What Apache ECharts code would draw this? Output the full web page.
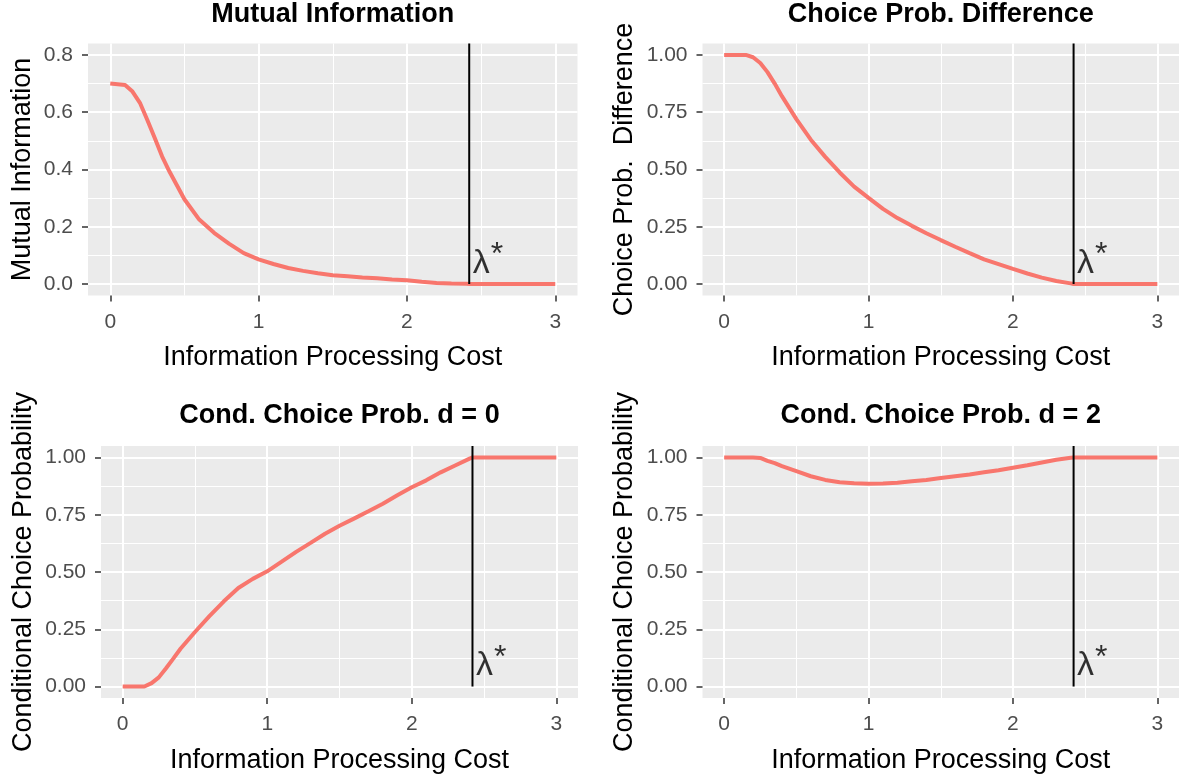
<!DOCTYPE html>
<html>
<head>
<meta charset="utf-8">
<script src="https://cdn.jsdelivr.net/npm/echarts@6/dist/echarts.min.js"></script>
<style>
html,body{margin:0;padding:0;background:#fff;}
#chart{width:1180px;height:776px;}
</style>
</head>
<body>
<div id="chart"></div>
<script>
// ---------------- data ----------------
const costX = [0, 0.1, 0.15, 0.2, 0.25, 0.3, 0.35, 0.4, 0.5, 0.6, 0.7, 0.8, 0.9, 1.0, 1.1, 1.2, 1.3, 1.4, 1.5, 1.6, 1.7, 1.8, 1.9, 2.0, 2.1, 2.2, 2.3, 2.4, 2.42, 2.5, 2.6, 2.7, 2.8, 2.9, 3.0];
const mutualInfo = [0.700, 0.695, 0.672, 0.633, 0.573, 0.510, 0.445, 0.392, 0.296, 0.225, 0.179, 0.141, 0.108, 0.086, 0.070, 0.056, 0.046, 0.038, 0.031, 0.027, 0.023, 0.020, 0.016, 0.013, 0.008, 0.004, 0.002, 0.001, 0, 0, 0, 0, 0, 0, 0];
const choiceDiff = [1.0, 1.0, 1.0, 0.99, 0.965, 0.925, 0.875, 0.82, 0.72, 0.63, 0.555, 0.487, 0.425, 0.376, 0.328, 0.288, 0.254, 0.222, 0.192, 0.163, 0.135, 0.108, 0.087, 0.066, 0.046, 0.028, 0.013, 0.003, 0, 0, 0, 0, 0, 0, 0];
const condD0 = [0, 0, 0, 0.015, 0.04, 0.08, 0.122, 0.165, 0.238, 0.307, 0.372, 0.43, 0.47, 0.503, 0.545, 0.588, 0.627, 0.667, 0.702, 0.733, 0.765, 0.798, 0.835, 0.87, 0.9, 0.935, 0.965, 0.995, 1, 1, 1, 1, 1, 1, 1];
const condD2 = [1, 1, 1, 1, 0.998, 0.985, 0.975, 0.962, 0.94, 0.918, 0.902, 0.892, 0.887, 0.885, 0.886, 0.89, 0.896, 0.902, 0.91, 0.918, 0.926, 0.935, 0.944, 0.955, 0.966, 0.978, 0.99, 0.999, 1, 1, 1, 1, 1, 1, 1];
const lambdaStar = 2.42;
const xTicks = [0, 1, 2, 3];
const xMinorTicks = [0.5, 1.5, 2.5];
const miTicks = [0, 0.2, 0.4, 0.6, 0.8];
const miMinorTicks = [0.1, 0.3, 0.5, 0.7];
const probTicks = [0, 0.25, 0.5, 0.75, 1];
const probMinorTicks = [0.125, 0.375, 0.625, 0.875];
const panelTitles = ['Mutual Information', 'Choice Prob. Difference', 'Cond. Choice Prob. d = 0', 'Cond. Choice Prob. d = 2'];
const yTitles = ['Mutual Information', 'Choice Prob.  Difference', 'Conditional Choice Probability', 'Conditional Choice Probability'];
const xTitle = 'Information Processing Cost';
const lambdaLabel = 'λ*';

// ---------------- layout / style ----------------
const FONT = '"Liberation Sans", Arial, sans-serif';
const panels = [
  {left: 88, top: 43.5, width: 489.5, height: 252, yMin: -0.04, yMax: 0.84, ticks: miTicks, minor: miMinorTicks, dec: 1, values: mutualInfo, titleY: 15, yGap: 52},
  {left: 702.5, top: 43.5, width: 476.5, height: 252, yMin: -0.05, yMax: 1.05, ticks: probTicks, minor: probMinorTicks, dec: 2, values: choiceDiff, titleY: 15, yGap: 64},
  {left: 101, top: 446, width: 477, height: 252, yMin: -0.05, yMax: 1.05, ticks: probTicks, minor: probMinorTicks, dec: 2, values: condD0, titleY: 416, yGap: 64},
  {left: 702.5, top: 446, width: 476.5, height: 252, yMin: -0.05, yMax: 1.05, ticks: probTicks, minor: probMinorTicks, dec: 2, values: condD2, titleY: 416, yGap: 64}
];

const grid = [], xAxis = [], yAxis = [], series = [], graphic = [];
panels.forEach((p, i) => {
  grid.push({left: p.left, top: p.top, width: p.width, height: p.height, show: true,
    backgroundColor: '#EBEBEB', borderWidth: 0, containLabel: false, outerBoundsMode: 'none'});
  const xi = xAxis.length, yi = yAxis.length;
  xAxis.push({gridIndex: i, type: 'value', min: -0.15, max: 3.15,
    axisLine: {show: false, onZero: false},
    axisTick: {show: true, length: 6, lineStyle: {color: '#333333', width: 1.5}, customValues: xTicks},
    axisLabel: {customValues: xTicks, color: '#4D4D4D', fontSize: 21, fontFamily: FONT, margin: 16,
      formatter: v => String(Math.round(v))},
    splitLine: {show: true, lineStyle: {color: '#FFFFFF', width: 2}},
    name: xTitle, nameLocation: 'middle', nameGap: 49,
    nameTextStyle: {fontSize: 27, color: '#000', fontFamily: FONT}
  });
  xAxis.push({gridIndex: i, type: 'value', min: -0.15, max: 3.15,
    axisLine: {show: false, onZero: false},
    axisTick: {show: false, customValues: xMinorTicks},
    axisLabel: {show: false, customValues: xMinorTicks},
    splitLine: {show: true, lineStyle: {color: '#FFFFFF', width: 1}}
  });
  yAxis.push({gridIndex: i, type: 'value', min: p.yMin, max: p.yMax,
    axisLine: {show: false, onZero: false},
    axisTick: {show: true, length: 6, lineStyle: {color: '#333333', width: 1.5}, customValues: p.ticks},
    axisLabel: {customValues: p.ticks, color: '#4D4D4D', fontSize: 21, fontFamily: FONT, margin: 15,
      formatter: v => v.toFixed(p.dec)},
    splitLine: {show: true, lineStyle: {color: '#FFFFFF', width: 2}},
    name: yTitles[i], nameLocation: 'middle', nameGap: p.yGap, nameRotate: 90,
    nameTextStyle: {fontSize: 27, color: '#000', fontFamily: FONT}
  });
  yAxis.push({gridIndex: i, type: 'value', min: p.yMin, max: p.yMax,
    axisLine: {show: false, onZero: false},
    axisTick: {show: false, customValues: p.minor},
    axisLabel: {show: false, customValues: p.minor},
    splitLine: {show: true, lineStyle: {color: '#FFFFFF', width: 1}}
  });
  series.push({type: 'line', xAxisIndex: xi, yAxisIndex: yi, showSymbol: false, silent: true,
    data: costX.map((x, k) => [x, p.values[k]]),
    lineStyle: {color: '#F8766D', width: 4}, z: 3});
  series.push({type: 'line', xAxisIndex: xi, yAxisIndex: yi, showSymbol: false, silent: true,
    data: [[lambdaStar, 0], [lambdaStar, p.yMax]],
    lineStyle: {color: '#000000', width: 2}, z: 4});
  series.push({type: 'scatter', xAxisIndex: xi, yAxisIndex: yi, silent: true, symbolSize: 1,
    itemStyle: {color: 'rgba(0,0,0,0)'}, z: 5,
    data: [[lambdaStar, 0]],
    label: {show: true, position: [4, 0], align: 'left', verticalAlign: 'bottom',
      formatter: '{a|' + lambdaLabel.charAt(0) + '}{b|' + lambdaLabel.charAt(1) + '}',
      rich: {a: {fontSize: 34, fontFamily: FONT, color: '#000', lineHeight: 40},
             b: {fontSize: 32, fontFamily: FONT, color: '#000', verticalAlign: 'top', lineHeight: 40, padding: [-4, 0, 0, 1]}}}
  });
  graphic.push({type: 'text', x: p.left + p.width / 2, y: p.titleY,
    style: {text: panelTitles[i], align: 'center', verticalAlign: 'middle',
      font: 'bold 27px ' + FONT, fill: '#000'}});
});

const chart = echarts.init(document.getElementById('chart'), null, {renderer: 'canvas'});
chart.setOption({animation: false, grid, xAxis, yAxis, series, graphic});
</script>
</body>
</html>
